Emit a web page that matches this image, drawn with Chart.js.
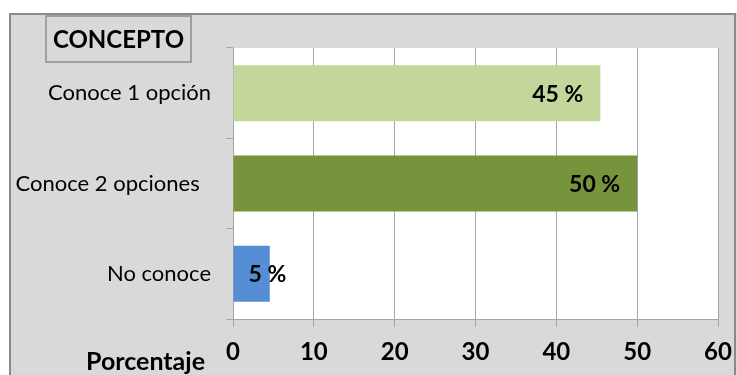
<!DOCTYPE html>
<html>
<head>
<meta charset="utf-8">
<script src="https://cdn.jsdelivr.net/npm/chart.js@4"></script>
<style>
  html, body { margin:0; padding:0; background:#ffffff; }
  #wrap { width:737px; height:375px; position:relative; }
</style>
</head>
<body>
<div id="wrap"><canvas id="chart" width="737" height="375"></canvas></div>
<script>
const categories = ['Conoce 1 opción', 'Conoce 2 opciones  ', 'No conoce'];
const percentages = [45.45, 50, 4.55];
const barColors = ['#c3d69b', '#77933c', '#558ed5'];
const xTicks = [0, 10, 20, 30, 40, 50, 60];

const FONT = 'Lato, "Open Sans", sans-serif';

// gray frame, title box and the white plot area
const framePlugin = {
    id: 'frame',
    beforeDraw(chart) {
        const ctx = chart.ctx;
        const a = chart.chartArea;
        ctx.save();
        ctx.fillStyle = '#d9d9d9';
        ctx.fillRect(9, 13, 737 - 9, 375 - 13);
        ctx.strokeStyle = '#8a8a8a';
        ctx.lineWidth = 2;
        ctx.strokeRect(10, 14, 737 - 12, 375);
        ctx.fillStyle = '#ffffff';
        ctx.fillRect(a.left, a.top, a.right - a.left, a.bottom - a.top);
        // title box
        ctx.strokeStyle = '#8c8c8c';
        ctx.lineWidth = 1.5;
        ctx.strokeRect(46, 16, 145, 46);
        ctx.fillStyle = '#000000';
        ctx.font = 'bold 24px ' + FONT;
        ctx.textAlign = 'center';
        ctx.textBaseline = 'middle';
        ctx.fillText('CONCEPTO', 118.5, 40);
        // axis title, sitting at the bottom left
        ctx.font = 'bold 25px ' + FONT;
        ctx.textAlign = 'right';
        ctx.fillText('Porcentaje', 205, 362);
        ctx.restore();
    },
    afterDatasetsDraw(chart) {
        // value labels near the end of each bar
        const ctx = chart.ctx;
        const meta = chart.getDatasetMeta(0);
        ctx.save();
        ctx.fillStyle = '#000000';
        ctx.font = 'bold 23px ' + FONT;
        ctx.textBaseline = 'middle';
        ctx.textAlign = 'left';
        meta.data.forEach((bar, i) => {
            const txt = Math.round(percentages[i]) + ' %';
            const w = ctx.measureText(txt).width;
            const x = Math.max(bar.base + 15, bar.x - 17 - w);
            ctx.fillText(txt, x, bar.y + 1);
        });
        ctx.restore();
    }
};

new Chart(document.getElementById('chart').getContext('2d'), {
    type: 'bar',
    data: {
        labels: categories,
        datasets: [{
            data: percentages,
            backgroundColor: barColors,
            borderWidth: 0,
            categoryPercentage: 1,
            barPercentage: 0.62
        }]
    },
    options: {
        indexAxis: 'y',
        responsive: false,
        animation: false,
        layout: { padding: { left: 0, top: 48, right: 19, bottom: 0 } },
        plugins: {
            legend: { display: false },
            tooltip: { enabled: false }
        },
        scales: {
            x: {
                min: 0,
                max: 60,
                afterBuildTicks(axis) {
                    axis.ticks = xTicks.map(v => ({ value: v }));
                },
                afterFit(axis) {
                    axis.height = 56;
                    axis.paddingLeft = 0;
                    axis.paddingRight = 0;
                },
                grid: { color: '#a6a6a6', lineWidth: 1, tickLength: 8, drawTicks: true },
                border: { color: '#a6a6a6', width: 1 },
                ticks: {
                    color: '#000000',
                    padding: 11,
                    font: { family: FONT, size: 24, weight: 'bold' }
                }
            },
            y: {
                afterFit(axis) { axis.width = 233; },
                grid: { drawOnChartArea: false, color: '#a6a6a6', tickLength: 7, offset: true },
                border: { color: '#a6a6a6', width: 1 },
                ticks: {
                    color: '#000000',
                    padding: 15,
                    font: { family: FONT, size: 22 }
                }
            }
        }
    },
    plugins: [framePlugin]
});
</script>
</body>
</html>
